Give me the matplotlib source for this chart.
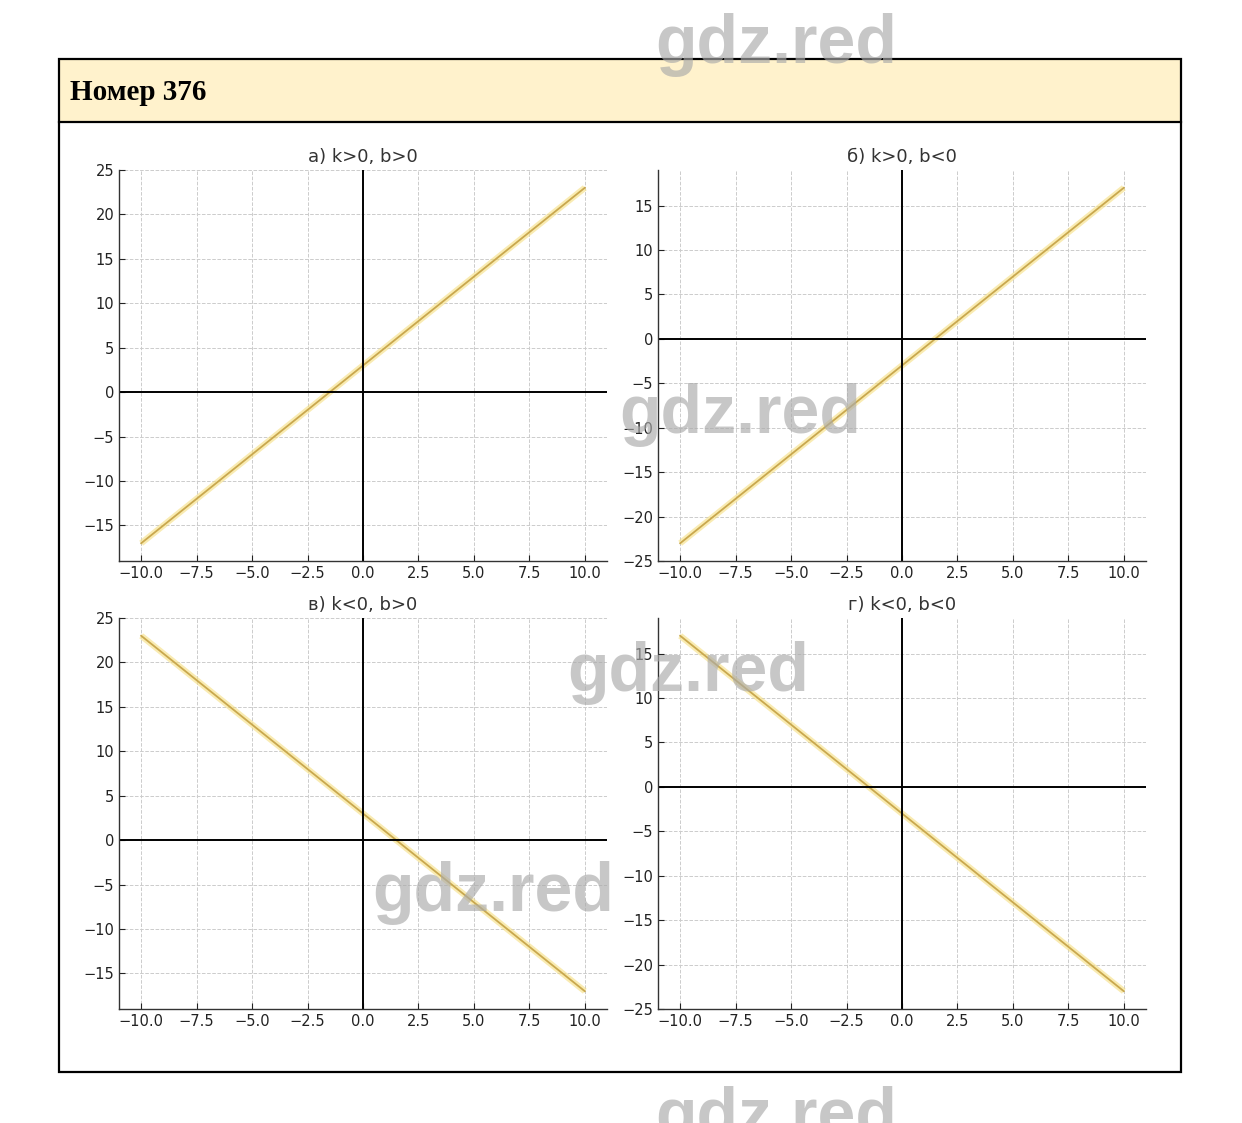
import matplotlib.pyplot as plt
from matplotlib.patches import Rectangle

plt.rcParams['font.family'] = ['DejaVu Sans']

W, H = 1242, 1123

# данные: концы отрезков для четырёх прямых y = kx + b
x_vals = [-10, 10]
titles = ['а) k>0, b>0', 'б) k>0, b<0', 'в) k<0, b>0', 'г) k<0, b<0']
y_a = [-17, 23]
y_b = [-23, 17]
y_v = [23, -17]
y_g = [17, -23]
series = [y_a, y_b, y_v, y_g]

glow_color = '#f6df80'
line_color = '#c9a84e'
grid_color = '#cccccc'


def fx(px):
    return px / W


def fy(py):
    return 1 - py / H


fig = plt.figure(figsize=(W / 100, H / 100), dpi=100)

# рамка и заголовок
frame = fig.add_axes([0, 0, 1, 1], zorder=0)
frame.set_xlim(0, W)
frame.set_ylim(H, 0)
frame.axis('off')
frame.add_patch(Rectangle((59, 59), 1122, 63, facecolor='#fff2cc', edgecolor='none'))
frame.add_patch(Rectangle((59, 59), 1122, 1013, facecolor='none', edgecolor='black', lw=1.6))
frame.plot([59, 1181], [122, 122], color='black', lw=1.6)
frame.text(70, 92, 'Номер 376', fontsize=21, fontweight='bold', family='Liberation Serif',
           va='center', ha='left')

# положения осей в пикселях: (left, top)
boxes = [(119, 170), (658, 170), (119, 618), (658, 618)]
aw, ah = 488, 391

for (left, top), title, ys in zip(boxes, titles, series):
    ax = fig.add_axes([fx(left), fy(top + ah), fx(aw), ah / H], zorder=1)
    ax.plot(x_vals, ys, color=glow_color, lw=4.5, alpha=0.6, solid_capstyle='butt')
    ax.plot(x_vals, ys, color=line_color, lw=1.3)
    ax.axhline(0, color='black', lw=1.4)
    ax.axvline(0, color='black', lw=1.4)
    ax.set_title(title, fontsize=13, color='#333333', pad=6)
    ax.grid(True, linestyle='--', color=grid_color, lw=0.7)
    ax.set_axisbelow(True)
    for side in ['top', 'right']:
        ax.spines[side].set_visible(False)
    for side in ['left', 'bottom']:
        ax.spines[side].set_color('#333333')
        ax.spines[side].set_linewidth(1.0)
    ax.tick_params(direction='in', labelsize=10.5, colors='#222222', length=4)
    ax.set_xticks([-10, -7.5, -5, -2.5, 0, 2.5, 5, 7.5, 10])

# водяные знаки
marks = [(776, 45), (740, 415), (688, 673), (493, 893), (776, 1118)]
for mx, my in marks:
    fig.text(fx(mx), fy(my), 'gdz.red', fontsize=49, fontweight='bold', family='Liberation Sans',
             color='#aaaaaa', alpha=0.65, ha='center', va='center', zorder=10)

fig.savefig('out.png', dpi=100)
